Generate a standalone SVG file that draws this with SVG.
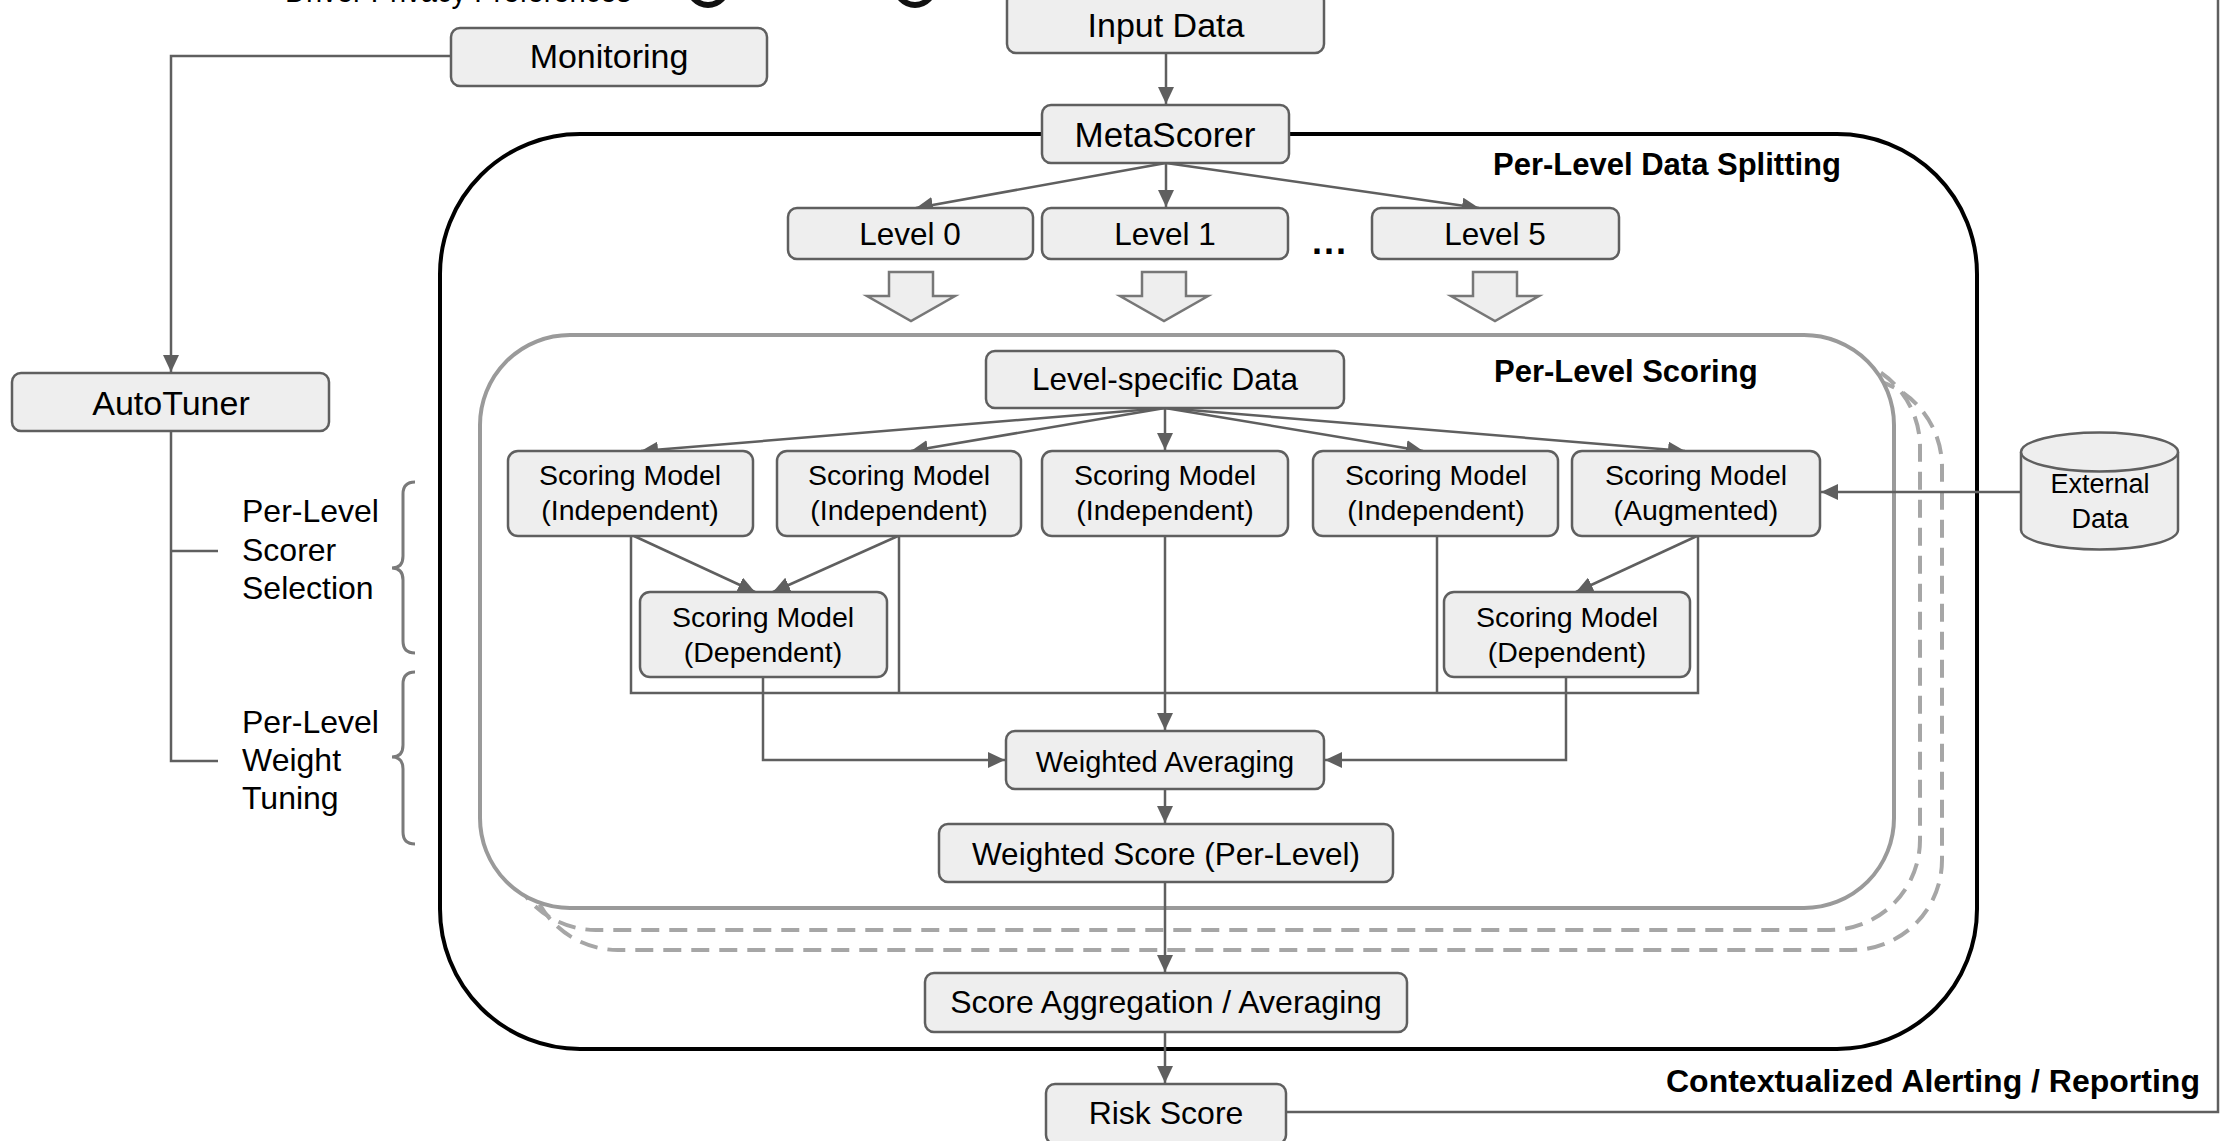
<svg xmlns="http://www.w3.org/2000/svg" width="2221" height="1141" viewBox="0 0 2221 1141">
  <style>
    .box { fill: #eeeeee; stroke: #5f5f5f; stroke-width: 2.5; }
    .lbl { font-family: "Liberation Sans", Arial, sans-serif; fill: #000; text-anchor: middle; }
    .side { font-family: "Liberation Sans", Arial, sans-serif; fill: #000; font-size: 32px; }
    .title { font-family: "Liberation Sans", Arial, sans-serif; font-weight: bold; fill: #000; }
    .conn { fill: none; stroke: #5f5f5f; stroke-width: 2.5; }
    .brace { fill: none; stroke: #7a7a7a; stroke-width: 3; }
    .dash { fill: none; stroke: #a6a6a6; stroke-width: 4; stroke-dasharray: 18 10; }
    .block { fill: #eeeeee; stroke: #777777; stroke-width: 2.5; stroke-linejoin: miter; }
  </style>
  <defs>
    <marker id="arr" markerUnits="userSpaceOnUse" markerWidth="18" markerHeight="16" refX="17" refY="8" orient="auto">
      <path d="M0,0 L17,8 L0,16 Z" fill="#5f5f5f"/>
    </marker>
  </defs>

  <rect width="2221" height="1141" fill="#ffffff"/>

  <!-- header line, clipped at the top edge -->
  <g id="header">
    <text class="side" x="212" y="2" font-size="28">•</text>
    <text class="side" x="285" y="2" font-size="28" textLength="346" lengthAdjust="spacingAndGlyphs">Driver Privacy Preferences</text>
    <circle cx="708" cy="-14" r="19" fill="none" stroke="#111" stroke-width="6"/>
    <circle cx="915" cy="-14" r="19" fill="none" stroke="#111" stroke-width="6"/>
  </g>

  <!-- containers -->
  <g id="containers">
    <rect x="440" y="134" width="1537" height="915" rx="140" ry="140" fill="#ffffff" stroke="#000" stroke-width="4"/>
    <rect class="dash" x="528" y="377" width="1414" height="573" rx="90" ry="90"/>
    <rect class="dash" x="506" y="357" width="1414" height="573" rx="90" ry="90"/>
    <rect x="480" y="335" width="1414" height="573" rx="90" ry="90" fill="#ffffff" stroke="#9a9a9a" stroke-width="4"/>
    <text class="title" x="1493" y="175" font-size="31">Per-Level Data Splitting</text>
    <text class="title" x="1494" y="382" font-size="31">Per-Level Scoring</text>
    <text class="title" x="1666" y="1092" font-size="32">Contextualized Alerting / Reporting</text>
  </g>

  <!-- connectors -->
  <g id="connectors">
    <path class="conn" d="M1166,53 V104" marker-end="url(#arr)"/>
    <path class="conn" d="M1166,163 L916,208" marker-end="url(#arr)"/>
    <path class="conn" d="M1166,163 V207" marker-end="url(#arr)"/>
    <path class="conn" d="M1166,163 L1479,208" marker-end="url(#arr)"/>
    <path class="conn" d="M451,56 H171 V372" marker-end="url(#arr)"/>
    <path class="conn" d="M171,431 V761 H218 M171,551 H218"/>

    <path class="conn" d="M1165,408 L641,451" marker-end="url(#arr)"/>
    <path class="conn" d="M1165,408 L911,451" marker-end="url(#arr)"/>
    <path class="conn" d="M1165,408 V450" marker-end="url(#arr)"/>
    <path class="conn" d="M1165,408 L1423,451" marker-end="url(#arr)"/>
    <path class="conn" d="M1165,408 L1685,451" marker-end="url(#arr)"/>
    <path class="conn" d="M2021,492 H1821" marker-end="url(#arr)"/>

    <path class="conn" d="M634,536 L755,592" marker-end="url(#arr)"/>
    <path class="conn" d="M898,536 L773,592" marker-end="url(#arr)"/>
    <path class="conn" d="M1697,536 L1576,592" marker-end="url(#arr)"/>

    <path class="conn" d="M631,536 V693 H1698 V536 M899,536 V693 M1437,536 V693"/>
    <path class="conn" d="M1165,536 V730" marker-end="url(#arr)"/>
    <path class="conn" d="M763,677 V760 H1005" marker-end="url(#arr)"/>
    <path class="conn" d="M1566,677 V760 H1325" marker-end="url(#arr)"/>
    <path class="conn" d="M1165,789 V823" marker-end="url(#arr)"/>
    <path class="conn" d="M1165,882 V972" marker-end="url(#arr)"/>
    <path class="conn" d="M1165,1032 V1083" marker-end="url(#arr)"/>
    <path class="conn" d="M1286,1112 H2218 V0"/>

    <!-- hollow split arrows -->
    <polygon class="block" points="889,272 933,272 933,296 955,296 911,321 867,296 889,296"/>
    <polygon class="block" points="1142,272 1186,272 1186,296 1208,296 1164,321 1120,296 1142,296"/>
    <polygon class="block" points="1473,272 1517,272 1517,296 1539,296 1495,321 1451,296 1473,296"/>

    <!-- braces -->
    <path class="brace" d="M415,482 Q403,482 403,494 V556 Q403,568 392,568 Q403,568 403,580 V641 Q403,653 415,653"/>
    <path class="brace" d="M415,672 Q403,672 403,684 V745 Q403,757 392,757 Q403,757 403,769 V832 Q403,844 415,844"/>
  </g>

  <!-- nodes -->
  <g id="input-data">
    <rect class="box" x="1007" y="-8" width="317" height="61" rx="9"/>
    <text class="lbl" x="1166" y="37" font-size="34">Input Data</text>
  </g>
  <g id="monitoring">
    <rect class="box" x="451" y="28" width="316" height="58" rx="9"/>
    <text class="lbl" x="609" y="68" font-size="34">Monitoring</text>
  </g>
  <g id="metascorer">
    <rect class="box" x="1042" y="105" width="247" height="58" rx="9"/>
    <text class="lbl" x="1165" y="147" font-size="35">MetaScorer</text>
  </g>
  <g id="autotuner">
    <rect class="box" x="12" y="373" width="317" height="58" rx="9"/>
    <text class="lbl" x="171" y="415" font-size="34">AutoTuner</text>
  </g>
  <g id="tuning-labels">
    <text class="side" x="242" y="522">Per-Level</text>
    <text class="side" x="242" y="561">Scorer</text>
    <text class="side" x="242" y="599">Selection</text>
    <text class="side" x="242" y="733">Per-Level</text>
    <text class="side" x="242" y="771">Weight</text>
    <text class="side" x="242" y="809">Tuning</text>
  </g>
  <g id="level-0">
    <rect class="box" x="788" y="208" width="245" height="51" rx="9"/>
    <text class="lbl" x="910" y="245" font-size="31.5">Level 0</text>
  </g>
  <g id="level-1">
    <rect class="box" x="1042" y="208" width="246" height="51" rx="9"/>
    <text class="lbl" x="1165" y="245" font-size="31.5">Level 1</text>
  </g>
  <text class="title" x="1312" y="254" font-size="36" letter-spacing="2">...</text>
  <g id="level-5">
    <rect class="box" x="1372" y="208" width="247" height="51" rx="9"/>
    <text class="lbl" x="1495" y="245" font-size="31.5">Level 5</text>
  </g>
  <g id="level-specific-data">
    <rect class="box" x="986" y="351" width="358" height="57" rx="9"/>
    <text class="lbl" x="1165" y="390" font-size="31.5">Level-specific Data</text>
  </g>
  <g id="model-ind-1">
    <rect class="box" x="508" y="451" width="245" height="85" rx="10"/>
    <text class="lbl" x="630" y="485" font-size="28.5">Scoring Model</text>
    <text class="lbl" x="630" y="520" font-size="28.5">(Independent)</text>
  </g>
  <g id="model-ind-2">
    <rect class="box" x="777" y="451" width="244" height="85" rx="10"/>
    <text class="lbl" x="899" y="485" font-size="28.5">Scoring Model</text>
    <text class="lbl" x="899" y="520" font-size="28.5">(Independent)</text>
  </g>
  <g id="model-ind-3">
    <rect class="box" x="1042" y="451" width="246" height="85" rx="10"/>
    <text class="lbl" x="1165" y="485" font-size="28.5">Scoring Model</text>
    <text class="lbl" x="1165" y="520" font-size="28.5">(Independent)</text>
  </g>
  <g id="model-ind-4">
    <rect class="box" x="1313" y="451" width="245" height="85" rx="10"/>
    <text class="lbl" x="1436" y="485" font-size="28.5">Scoring Model</text>
    <text class="lbl" x="1436" y="520" font-size="28.5">(Independent)</text>
  </g>
  <g id="model-augmented">
    <rect class="box" x="1572" y="451" width="248" height="85" rx="10"/>
    <text class="lbl" x="1696" y="485" font-size="28.5">Scoring Model</text>
    <text class="lbl" x="1696" y="520" font-size="28.5">(Augmented)</text>
  </g>
  <g id="model-dep-left">
    <rect class="box" x="640" y="592" width="247" height="85" rx="10"/>
    <text class="lbl" x="763" y="627" font-size="28.5">Scoring Model</text>
    <text class="lbl" x="763" y="662" font-size="28.5">(Dependent)</text>
  </g>
  <g id="model-dep-right">
    <rect class="box" x="1444" y="592" width="246" height="85" rx="10"/>
    <text class="lbl" x="1567" y="627" font-size="28.5">Scoring Model</text>
    <text class="lbl" x="1567" y="662" font-size="28.5">(Dependent)</text>
  </g>
  <g id="external-data">
    <path class="box" d="M2021,452 V530 A78.5,19.5 0 0 0 2178,530 V452"/>
    <ellipse class="box" cx="2099.5" cy="452" rx="78.5" ry="19.5"/>
    <text class="lbl" x="2100" y="493" font-size="27">External</text>
    <text class="lbl" x="2100" y="528" font-size="27">Data</text>
  </g>
  <g id="weighted-averaging">
    <rect class="box" x="1006" y="731" width="318" height="58" rx="9"/>
    <text class="lbl" x="1165" y="772" font-size="29">Weighted Averaging</text>
  </g>
  <g id="weighted-score">
    <rect class="box" x="939" y="824" width="454" height="58" rx="9"/>
    <text class="lbl" x="1166" y="865" font-size="31.5">Weighted Score (Per-Level)</text>
  </g>
  <g id="score-aggregation">
    <rect class="box" x="925" y="973" width="482" height="59" rx="9"/>
    <text class="lbl" x="1166" y="1013" font-size="32">Score Aggregation / Averaging</text>
  </g>
  <g id="risk-score">
    <rect class="box" x="1046" y="1084" width="240" height="60" rx="9"/>
    <text class="lbl" x="1166" y="1124" font-size="32">Risk Score</text>
  </g>
</svg>
